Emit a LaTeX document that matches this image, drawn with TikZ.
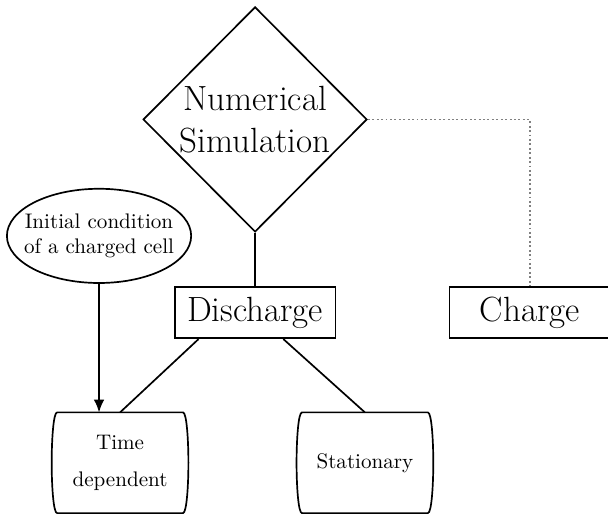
\documentclass[tikz,border=0pt]{standalone}
\usepackage{amsmath}
\usepackage{tikz}
\usetikzlibrary{arrows.meta}
\usetikzlibrary{positioning}
\usetikzlibrary{shapes.geometric}

% outline of a case box: straight top and bottom, sides bowed out
\newcommand{\caseoutline}[1]{
    \draw ([xshift=-0.09cm]#1.north east) .. controls ([xshift=-0.03cm]#1.north east) and ([yshift=-0.45cm]#1.north east) .. (#1.east)
        .. controls ([yshift=0.45cm]#1.south east) and ([xshift=-0.03cm]#1.south east) .. ([xshift=-0.09cm]#1.south east)
        -- ([xshift=0.09cm]#1.south west)
        .. controls ([xshift=0.03cm]#1.south west) and ([yshift=0.45cm]#1.south west) .. (#1.west)
        .. controls ([yshift=-0.45cm]#1.north west) and ([xshift=0.03cm]#1.north west) .. ([xshift=0.09cm]#1.north west)
        -- cycle;
}

\begin{document}
\begin{tikzpicture}[thick,node distance=2cm,on grid,
    big/.style={font=\fontsize{16.6}{20}\selectfont},
    decision/.style={diamond,draw,big,align=center,inner sep=0pt,minimum width=3.73cm,minimum height=3.75cm},
    mode/.style={rectangle,draw,big,minimum width=2.68cm,minimum height=0.85cm},
    case/.style={rectangle,align=center,minimum width=2.25cm,minimum height=1.65cm},
    start/.style={ellipse,draw,align=center,inner xsep=-5pt,inner ysep=0pt,minimum width=3.07cm,minimum height=1.57cm}]
    \useasboundingbox (0,0) rectangle (10.13,-8.57);
    \node[decision] (sim) at (4.25,-1.99) {Numerical\\Simulation};
    \node[mode] [below=3.22cm of sim] (dis) {Discharge};
    \node[mode] [right=4.58cm of dis] (chg) {Charge};
    \node[case] [below left=2.5cm and 2.25cm of dis] (time) {Time\\[5.5pt]dependent};
    \node[case] [below right=2.5cm and 1.83cm of dis] (stat) {Stationary};
    \node[start] (init) at (1.65,-3.93) {Initial condition\\of a charged cell};
    \caseoutline{time}
    \caseoutline{stat}
    \path
    (sim) edge (dis)
    (dis.-155) edge (time.north)
    (dis.-43) edge (stat.north);
    \draw[-{Latex[length=6pt,width=5pt]}] (init.south) -- (init.south |- time.north);
    \draw[line width=0.7pt,dash pattern=on 0.9pt off 1.2pt,gray] (sim.east) -| (chg.north);
\end{tikzpicture}
\end{document}
